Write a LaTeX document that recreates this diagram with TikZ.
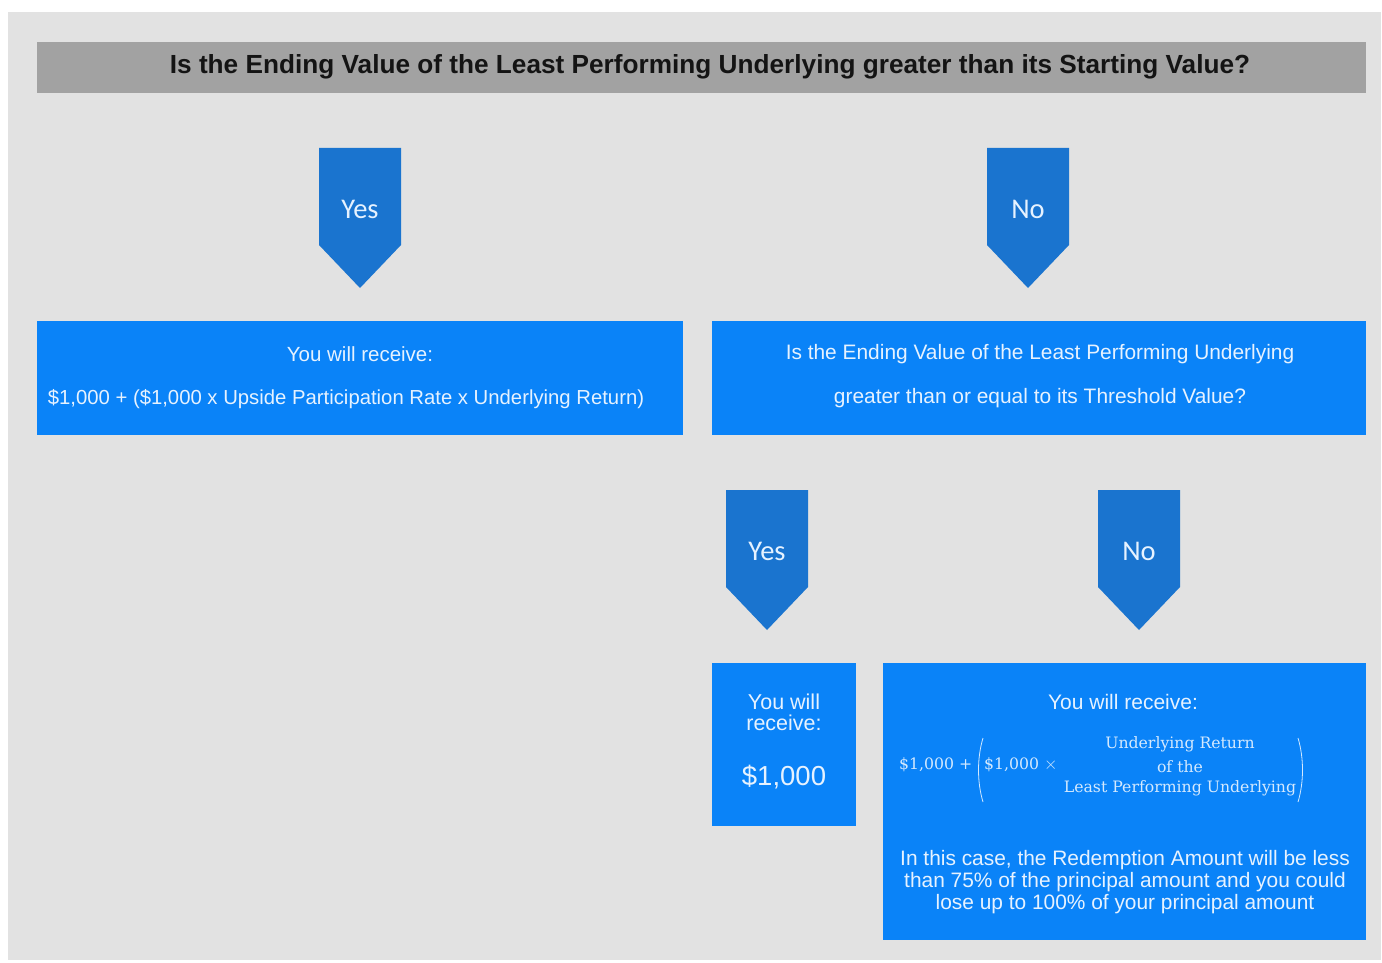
\documentclass[tikz,border=0pt]{standalone}
\usepackage{fontspec}
\setmainfont{Liberation Sans}
\newfontfamily\chevfont{Carlito}
\newfontfamily\formfont{DejaVu Serif}
\definecolor{panel}{HTML}{E2E2E2}
\definecolor{titlebar}{HTML}{A2A2A2}
\definecolor{chev}{HTML}{1A74CF}
\definecolor{boxblue}{HTML}{0A83F8}
\definecolor{boxtext}{HTML}{E6F2FF}
\begin{document}
\begin{tikzpicture}[x=1pt,y=-1pt,
  bluebox/.style={fill=boxblue, draw=none},
  chevshape/.style={fill=chev, draw=none},
  chevlabel/.style={text=boxtext, font=\chevfont\fontsize{28.5}{30}\selectfont, inner sep=0pt},
  boxlabel/.style={text=boxtext, font=\fontsize{20.5}{23}\selectfont, inner sep=0pt, align=center},
  formlabel/.style={text=boxtext!92!boxblue, font=\formfont\fontsize{15.7}{18}\selectfont, inner sep=0pt, align=center}]
\useasboundingbox (0,0) rectangle (1382,963);
\fill[white] (0,0) rectangle (1382,963);
\fill[panel] (8,12) rectangle (1381,960);
% title
\node[fill=titlebar, minimum width=1329pt, minimum height=51pt, inner sep=0pt, anchor=north west] (title) at (37,42) {};
\node[text=black!92, font=\bfseries\fontsize{26.2}{30}\selectfont, inner sep=0pt] (titletext) at (710,67)
  {Is the Ending Value of the Least Performing Underlying greater than its Starting Value?};
% chevrons
\newcommand{\chevron}[3]{%
  \fill[chevshape] (#1-41,#2) -- (#1+41,#2) -- (#1+41,#2+97) -- (#1,#2+140) -- (#1-41,#2+97) -- cycle;
  \node[chevlabel] (#3) at (#1,#2+61) {};}
\chevron{360}{148}{yesA}
\node[chevlabel] at (yesA) {Yes};
\chevron{1028}{148}{noA}
\node[chevlabel] at (noA) {No};
\chevron{767}{490}{yesB}
\node[chevlabel] at (yesB) {Yes};
\chevron{1139}{490}{noB}
\node[chevlabel] at (noB) {No};
% boxes
\fill[bluebox] (37,321) rectangle (683,435);
\node[boxlabel] (b1a) at (360,354) {You will receive:};
\node[boxlabel, font=\fontsize{20.3}{23}\selectfont] (b1b) at (346,399) {\$1,000 + (\$1,000 x Upside Participation Rate x Underlying Return)};
\fill[bluebox] (712,321) rectangle (1366,435);
\node[boxlabel, font=\fontsize{20.9}{23}\selectfont] (b2a) at (1040,354) {Is the Ending Value of the Least Performing Underlying};
\node[boxlabel, font=\fontsize{20.9}{23}\selectfont] (b2b) at (1040,398) {greater than or equal to its Threshold Value?};
\fill[bluebox] (712,663) rectangle (856,826);
\node[boxlabel, font=\fontsize{21.5}{21}\selectfont] (b3a) at (784,712) {You will\\receive:};
\node[boxlabel, font=\fontsize{27.5}{30}\selectfont] (b3b) at (784,777) {\$1,000};
\fill[bluebox] (883,663) rectangle (1366,940);
\node[boxlabel, font=\fontsize{21}{23}\selectfont] (b4a) at (1123,702) {You will receive:};
\node[formlabel, anchor=west] (f1) at (899,765) {\$1,000 +};
\node[formlabel, anchor=west] (f2) at (984,765) {\$1,000 {\fontsize{19}{18}\selectfont$\times$}};
\node[formlabel] (f3) at (1180,744) {Underlying Return};
\node[formlabel] (f4) at (1180,767) {of the};
\node[formlabel] (f5) at (1180,788) {Least Performing Underlying};
\draw[boxtext!92!boxblue, line width=0.8pt] (983,738) .. controls (977,758) and (977,782) .. (983,802);
\draw[boxtext!92!boxblue, line width=0.8pt] (1298,738) .. controls (1304,758) and (1304,782) .. (1298,802);
\node[boxlabel, font=\fontsize{20.9}{22}\selectfont] (b4b) at (1125,882)
  {In this case, the Redemption Amount will be less\\
   than 75\% of the principal amount and you could\\
   lose up to 100\% of your principal amount};
\end{tikzpicture}
\end{document}
